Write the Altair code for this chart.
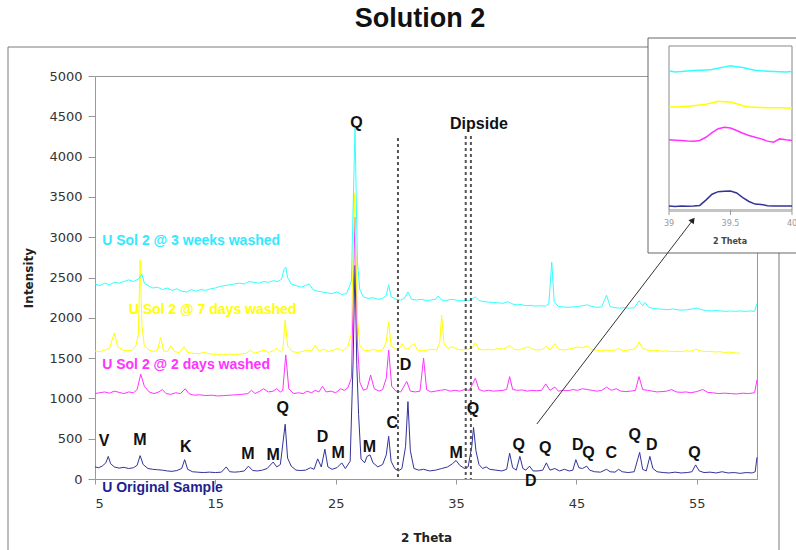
import altair as alt
import pandas as pd

# ---------------- data (2 Theta, Intensity) ----------------
original = [
    (5.0, 150), (5.3, 140), (5.6, 160), (5.9, 200), (6.1, 280), (6.3, 190), (6.6, 150), (7.0, 135),
    (7.4, 145), (7.8, 130), (8.2, 140), (8.5, 170), (8.75, 290), (9.0, 180), (9.4, 130), (9.8, 120),
    (10.2, 115), (10.6, 110), (11.0, 100), (11.4, 95), (11.8, 105), (12.2, 130), (12.45, 240), (12.7, 120),
    (13.1, 90), (13.5, 85), (14.0, 80), (14.5, 85), (15.0, 80), (15.5, 85), (15.9, 150), (16.2, 90),
    (16.6, 85), (17.0, 90), (17.4, 100), (17.75, 160), (18.1, 105), (18.5, 100), (18.9, 110), (19.3, 130),
    (19.8, 210), (20.1, 150), (20.4, 180), (20.8, 680), (21.0, 260), (21.3, 160), (21.7, 110), (22.1, 105),
    (22.5, 110), (22.9, 140), (23.2, 120), (23.5, 250), (23.8, 150), (24.1, 370), (24.35, 150), (24.7, 120),
    (25.1, 140), (25.5, 200), (25.8, 130), (26.2, 220), (26.45, 1500), (26.6, 2650), (26.75, 1420), (26.9, 800),
    (27.1, 250), (27.4, 200), (27.6, 280), (27.85, 300), (28.1, 200), (28.5, 150), (28.9, 180), (29.2, 300),
    (29.4, 530), (29.6, 220), (29.9, 130), (30.2, 100), (30.5, 130), (30.8, 400), (31.0, 960), (31.2, 350),
    (31.5, 130), (31.9, 110), (32.3, 120), (32.8, 100), (33.3, 110), (33.8, 130), (34.3, 150), (34.7, 190),
    (35.0, 230), (35.3, 170), (35.7, 130), (36.0, 150), (36.3, 400), (36.45, 640), (36.65, 350), (36.9, 180),
    (37.2, 130), (37.5, 150), (37.8, 120), (38.3, 110), (38.8, 100), (39.2, 120), (39.45, 320), (39.7, 140),
    (40.0, 110), (40.3, 280), (40.55, 130), (40.8, 110), (41.1, 160), (41.4, 100), (41.8, 100), (42.2, 110),
    (42.5, 200), (42.8, 110), (43.2, 130), (43.6, 100), (44.0, 120), (44.4, 100), (44.7, 110), (44.95, 240),
    (45.2, 140), (45.5, 130), (45.85, 160), (46.1, 110), (46.5, 90), (47.0, 85), (47.5, 120), (47.8, 90),
    (48.2, 85), (48.5, 120), (48.8, 90), (49.3, 80), (49.8, 90), (50.1, 250), (50.25, 330), (50.5, 120),
    (50.8, 100), (51.1, 280), (51.35, 130), (51.7, 90), (52.2, 80), (52.7, 75), (53.2, 85), (53.7, 75),
    (54.2, 80), (54.6, 90), (54.9, 175), (55.2, 100), (55.6, 80), (56.1, 85), (56.6, 75), (57.1, 90),
    (57.6, 75), (58.1, 80), (58.6, 70), (59.1, 80), (59.6, 75), (59.85, 90), (60.0, 270),
]

days2 = [
    (5.0, 1060), (5.4, 1070), (5.8, 1080), (6.2, 1065), (6.6, 1090), (7.0, 1075), (7.4, 1060), (7.8, 1080),
    (8.2, 1070), (8.5, 1110), (8.8, 1300), (9.1, 1150), (9.5, 1080), (9.9, 1060), (10.3, 1080), (10.6, 1110),
    (10.9, 1060), (11.3, 1050), (11.7, 1070), (12.1, 1060), (12.5, 1120), (12.8, 1060), (13.2, 1040), (13.7, 1045),
    (14.2, 1035), (14.7, 1040), (15.2, 1030), (15.7, 1035), (16.2, 1040), (16.7, 1045), (17.2, 1050), (17.7, 1060),
    (18.0, 1100), (18.3, 1060), (18.7, 1090), (19.0, 1120), (19.4, 1080), (19.8, 1090), (20.1, 1120), (20.4, 1080),
    (20.6, 1100), (20.85, 1540), (21.1, 1120), (21.5, 1060), (21.9, 1070), (22.3, 1060), (22.6, 1090), (23.0, 1070),
    (23.3, 1100), (23.6, 1080), (23.9, 1150), (24.2, 1080), (24.6, 1090), (25.0, 1070), (25.4, 1120), (25.7, 1100),
    (26.0, 1130), (26.3, 1250), (26.6, 3250), (26.8, 1700), (27.0, 1200), (27.3, 1100), (27.6, 1120), (27.9, 1290),
    (28.2, 1120), (28.6, 1090), (28.9, 1110), (29.2, 1250), (29.4, 1600), (29.65, 1150), (30.0, 1090), (30.4, 1080),
    (30.9, 1210), (31.2, 1090), (31.6, 1080), (32.0, 1090), (32.3, 1500), (32.55, 1110), (32.9, 1080), (33.3, 1090),
    (33.7, 1100), (34.1, 1110), (34.5, 1090), (34.9, 1100), (35.3, 1090), (35.7, 1110), (36.1, 1100), (36.6, 1250),
    (36.9, 1110), (37.3, 1090), (37.7, 1100), (38.1, 1090), (38.5, 1095), (38.9, 1100), (39.2, 1110), (39.45, 1270),
    (39.7, 1110), (40.1, 1100), (40.5, 1105), (40.9, 1090), (41.3, 1100), (41.7, 1095), (42.1, 1100), (42.45, 1180),
    (42.8, 1100), (43.2, 1140), (43.5, 1090), (43.9, 1100), (44.3, 1095), (44.7, 1110), (45.1, 1100), (45.5, 1120),
    (45.9, 1110), (46.3, 1100), (46.7, 1090), (47.1, 1100), (47.5, 1140), (47.9, 1100), (48.3, 1120), (48.7, 1090),
    (49.1, 1085), (49.5, 1090), (49.9, 1100), (50.2, 1270), (50.5, 1110), (50.9, 1100), (51.3, 1090), (51.7, 1080),
    (52.1, 1085), (52.5, 1090), (52.9, 1110), (53.3, 1080), (53.7, 1075), (54.1, 1080), (54.5, 1070), (55.0, 1085),
    (55.5, 1110), (55.9, 1075), (56.3, 1070), (56.8, 1060), (57.3, 1065), (57.8, 1060), (58.3, 1055), (58.8, 1065),
    (59.3, 1060), (59.8, 1070), (60.0, 1230),
]

days7 = [
    (5.0, 1590), (5.4, 1580), (5.8, 1600), (6.2, 1620), (6.6, 1810), (6.9, 1640), (7.3, 1600), (7.7, 1590),
    (8.1, 1600), (8.4, 1650), (8.6, 1800), (8.75, 2720), (8.9, 1900), (9.1, 1650), (9.5, 1600), (9.9, 1580),
    (10.2, 1600), (10.45, 1760), (10.7, 1590), (11.0, 1580), (11.3, 1650), (11.6, 1580), (12.0, 1570), (12.4, 1640),
    (12.7, 1570), (13.1, 1560), (13.6, 1555), (14.1, 1570), (14.6, 1550), (15.1, 1545), (15.6, 1540), (16.1, 1550),
    (16.6, 1545), (17.1, 1550), (17.6, 1560), (17.9, 1600), (18.2, 1560), (18.7, 1580), (19.0, 1600), (19.4, 1570),
    (19.8, 1590), (20.1, 1620), (20.4, 1580), (20.6, 1600), (20.8, 1970), (21.0, 1650), (21.4, 1580), (21.8, 1570),
    (22.2, 1580), (22.6, 1600), (23.0, 1590), (23.3, 1660), (23.6, 1590), (24.0, 1610), (24.4, 1580), (24.8, 1600),
    (25.2, 1620), (25.6, 1590), (26.0, 1640), (26.3, 1800), (26.55, 3550), (26.8, 2000), (27.0, 1650), (27.3, 1600),
    (27.7, 1590), (28.1, 1610), (28.5, 1590), (28.9, 1600), (29.2, 1700), (29.4, 1950), (29.6, 1650), (29.9, 1620),
    (30.2, 1600), (30.5, 1680), (30.8, 1610), (31.1, 1620), (31.5, 1680), (31.8, 1600), (32.2, 1590), (32.6, 1600),
    (33.0, 1610), (33.4, 1600), (33.65, 1700), (33.8, 2030), (34.0, 1680), (34.3, 1620), (34.7, 1640), (35.1, 1610),
    (35.5, 1600), (35.9, 1610), (36.3, 1620), (36.6, 1690), (36.9, 1610), (37.3, 1600), (37.7, 1610), (38.1, 1600),
    (38.5, 1620), (38.9, 1610), (39.2, 1630), (39.45, 1660), (39.8, 1610), (40.2, 1600), (40.6, 1620), (41.0, 1640),
    (41.4, 1610), (41.8, 1600), (42.2, 1610), (42.5, 1650), (42.8, 1600), (43.2, 1680), (43.5, 1610), (43.9, 1600),
    (44.3, 1610), (44.7, 1620), (45.1, 1640), (45.5, 1630), (45.9, 1650), (46.2, 1610), (46.6, 1600), (47.0, 1590),
    (47.4, 1600), (47.8, 1595), (48.2, 1600), (48.5, 1620), (48.9, 1590), (49.3, 1600), (49.7, 1610), (50.0, 1640),
    (50.2, 1700), (50.5, 1620), (50.9, 1600), (51.3, 1590), (51.7, 1595), (52.1, 1585), (52.5, 1590), (52.9, 1580),
    (53.3, 1585), (53.7, 1580), (54.1, 1590), (54.5, 1585), (54.9, 1610), (55.3, 1590), (55.7, 1580), (56.1, 1585),
    (56.5, 1575), (56.9, 1580), (57.3, 1570), (57.7, 1575), (58.1, 1565), (58.6, 1560),
]

weeks3 = [
    (5.0, 2420), (5.4, 2400), (5.8, 2430), (6.2, 2410), (6.6, 2440), (7.0, 2430), (7.4, 2450), (7.8, 2470),
    (8.2, 2450), (8.6, 2480), (8.9, 2540), (9.1, 2430), (9.4, 2400), (9.8, 2370), (10.2, 2380), (10.6, 2350),
    (11.0, 2370), (11.4, 2340), (11.8, 2360), (12.2, 2330), (12.6, 2320), (13.0, 2350), (13.4, 2330), (13.8, 2350),
    (14.2, 2340), (14.6, 2360), (15.0, 2370), (15.4, 2390), (15.8, 2400), (16.2, 2410), (16.6, 2420), (17.0, 2430),
    (17.4, 2420), (17.8, 2450), (18.2, 2440), (18.6, 2430), (19.0, 2450), (19.4, 2440), (19.8, 2460), (20.2, 2450),
    (20.5, 2480), (20.7, 2600), (20.85, 2630), (21.0, 2500), (21.3, 2420), (21.7, 2400), (22.1, 2380), (22.5, 2400),
    (22.8, 2420), (23.1, 2350), (23.5, 2330), (23.9, 2320), (24.3, 2310), (24.7, 2300), (25.1, 2320), (25.5, 2290),
    (25.9, 2300), (26.3, 2450), (26.6, 4350), (26.8, 2700), (27.0, 2350), (27.3, 2260), (27.7, 2240), (28.1, 2250),
    (28.5, 2230), (28.9, 2240), (29.2, 2280), (29.4, 2410), (29.6, 2260), (30.0, 2230), (30.4, 2220), (30.7, 2240),
    (31.0, 2320), (31.3, 2230), (31.7, 2220), (32.1, 2230), (32.5, 2215), (32.9, 2220), (33.3, 2230), (33.5, 2270),
    (33.8, 2220), (34.2, 2215), (34.6, 2230), (35.0, 2220), (35.4, 2210), (35.8, 2215), (36.2, 2220), (36.6, 2260),
    (36.9, 2215), (37.3, 2200), (37.7, 2195), (38.1, 2190), (38.5, 2185), (38.9, 2180), (39.3, 2200), (39.6, 2175),
    (40.0, 2160), (40.4, 2165), (40.8, 2150), (41.2, 2155), (41.6, 2145), (42.0, 2150), (42.4, 2145), (42.7, 2170),
    (42.95, 2690), (43.15, 2200), (43.5, 2140), (43.9, 2135), (44.3, 2130), (44.7, 2135), (45.1, 2140), (45.5, 2150),
    (45.9, 2160), (46.3, 2140), (46.7, 2130), (47.1, 2135), (47.5, 2280), (47.8, 2140), (48.2, 2125), (48.6, 2120),
    (49.0, 2125), (49.4, 2120), (49.8, 2125), (50.2, 2210), (50.5, 2150), (50.7, 2190), (51.0, 2130), (51.4, 2115),
    (51.8, 2110), (52.2, 2105), (52.6, 2100), (53.0, 2110), (53.4, 2100), (53.8, 2095), (54.2, 2100), (54.6, 2110),
    (55.0, 2120), (55.4, 2100), (55.8, 2090), (56.2, 2085), (56.6, 2090), (57.0, 2085), (57.4, 2080), (57.8, 2085),
    (58.2, 2080), (58.6, 2085), (59.0, 2080), (59.4, 2085), (59.8, 2080), (60.0, 2180),
]

series_names = ["U Original Sample", "U Sol 2 @ 2 days washed",
                "U Sol 2 @ 7 days washed", "U Sol 2 @ 3 weeks washed"]
line_colors = ["#333399", "#FF33FF", "#FFFF00", "#33FFFF"]
label_colors = ["#1F1F8F", "#FF33FF", "#FFFF00", "#33E8FF"]
label_theta = [5.6, 5.6, 7.8, 5.6]
label_int = [-110, 1415, 2095, 2950]

# inset (zoom on 39-40 degrees)
inset_theta = [39.0, 39.05, 39.1, 39.15, 39.2, 39.25, 39.3, 39.35, 39.4, 39.45, 39.5,
               39.55, 39.6, 39.65, 39.7, 39.75, 39.8, 39.85, 39.9, 39.95, 40.0]
inset_original = [110, 105, 110, 108, 110, 120, 200, 290, 330, 335, 340,
                  310, 240, 180, 140, 135, 115, 110, 110, 110, 110]
inset_days2 = [1119, 1115, 1110, 1100, 1098, 1110, 1159, 1230, 1290, 1313, 1300,
               1262, 1220, 1185, 1160, 1134, 1100, 1083, 1134, 1120, 1110]
inset_days7 = [1619, 1622, 1625, 1630, 1640, 1650, 1660, 1685, 1706, 1700, 1696,
               1670, 1640, 1619, 1615, 1612, 1609, 1607, 1608, 1605, 1604]
inset_weeks3 = [2171, 2155, 2160, 2170, 2175, 2180, 2185, 2191, 2210, 2232, 2248,
                2235, 2222, 2200, 2181, 2172, 2166, 2162, 2158, 2155, 2160]
inset_ticks = [39, 39.5, 40]
inset_tick_labels = ["39", "39.5", "40"]

# peak annotations
peak_labels = ["V", "M", "K", "M", "M", "Q", "D", "M", "Q", "M", "C", "D", "M", "Q",
               "Q", "D", "Q", "D", "Q", "C", "Q", "D", "Q"]
peak_theta = [5.75, 8.74, 12.55, 17.7, 19.8, 20.6, 23.9, 25.2, 26.72, 27.8, 29.7, 30.8, 35.0, 36.4,
              40.2, 41.2, 42.4, 45.1, 46.0, 47.9, 49.85, 51.25, 54.8]
peak_int = [470, 485, 400, 310, 300, 880, 520, 320, 4420, 400, 700, 1415, 320, 870,
            420, -25, 385, 420, 320, 320, 545, 420, 320]

# Diopside reference lines
diop_theta = [30.17, 35.8, 36.23]
diop_top = [4230, 4255, 4255]

# arrow from main pattern to inset
arrow_start = (41.71, 682)
arrow_end = (54.67, 3213)

# ---------------- chart ----------------
W, H = 662, 403
xs = alt.Scale(domain=[5, 60], nice=False, zero=False)
ys = alt.Scale(domain=[0, 5000], nice=False, zero=False)

rows = []
for name, col, pts in zip(series_names, line_colors, [original, days2, days7, weeks3]):
    for t, v in pts:
        rows.append({"theta": t, "intensity": v, "series": name, "color": col})
main_df = pd.DataFrame(rows)

irows = []
for name, col, vals in zip(series_names, line_colors,
                           [inset_original, inset_days2, inset_days7, inset_weeks3]):
    for t, v in zip(inset_theta, vals):
        irows.append({"theta": t, "intensity": v, "series": name, "color": col})
inset_df = pd.DataFrame(irows)

one = pd.DataFrame({"k": [0]})
FONT = "Liberation Sans"

outer_frame = alt.Chart(one).mark_rect(filled=False, stroke="#7a7a7a", strokeWidth=1).encode(
    x=alt.value(-87), x2=alt.value(684), y=alt.value(-29), y2=alt.value(500))

lines = alt.Chart(main_df).mark_line(strokeWidth=1).encode(
    x=alt.X("theta:Q", scale=xs, axis=alt.Axis(
        values=[5, 15, 25, 35, 45, 55], title="2 Theta", grid=False, format="d",
        domainColor="#999", tickColor="#999", tickSize=5, labelPadding=13,
        labelFont="DejaVu Sans", labelFontSize=13, labelColor="#333",
        titleFont="DejaVu Sans", titleFontSize=12, titleFontWeight="bold",
        titleColor="#222", titlePadding=22)),
    y=alt.Y("intensity:Q", scale=ys, axis=alt.Axis(
        values=list(range(0, 5001, 500)), title="Intensity", grid=False, format="d",
        domainColor="#999", tickColor="#999", tickSize=7, labelPadding=6,
        labelFont="DejaVu Sans", labelFontSize=13, labelColor="#333",
        titleFont="DejaVu Sans", titleFontSize=12, titleFontWeight="bold",
        titleColor="#222", titlePadding=13)),
    color=alt.Color("color:N", scale=None),
    detail="series:N",
    order=alt.Order("theta:Q"),
)

diop_df = pd.DataFrame({"theta": diop_theta, "top": diop_top, "bottom": [0] * len(diop_theta)})
dashes = alt.Chart(diop_df).mark_rule(color="#555", strokeWidth=2, strokeDash=[3, 3]).encode(
    x=alt.X("theta:Q", scale=xs, axis=None),
    y=alt.Y("top:Q", scale=ys, axis=None),
    y2="bottom:Q",
)

dip_text = alt.Chart(pd.DataFrame({"t": ["Dipside"], "x": [36.9], "y": [4400]})).mark_text(
    font=FONT, fontSize=16, fontWeight="bold", color="#111").encode(
    x=alt.X("x:Q", scale=xs, axis=None), y=alt.Y("y:Q", scale=ys, axis=None), text="t:N")

peaks_df = pd.DataFrame({"label": peak_labels, "theta": peak_theta, "intensity": peak_int})
peaks = alt.Chart(peaks_df).mark_text(font=FONT, fontSize=16, fontWeight="bold", color="#111").encode(
    x=alt.X("theta:Q", scale=xs, axis=None),
    y=alt.Y("intensity:Q", scale=ys, axis=None),
    text="label:N",
)

lab_df = pd.DataFrame({"text": series_names, "theta": label_theta, "intensity": label_int,
                       "color": label_colors})
labels = alt.Chart(lab_df).mark_text(font=FONT, fontSize=14, fontWeight="bold", align="left").encode(
    x=alt.X("theta:Q", scale=xs, axis=None),
    y=alt.Y("intensity:Q", scale=ys, axis=None),
    text="text:N",
    color=alt.Color("color:N", scale=None),
)

overlays = alt.layer(dashes, dip_text, peaks, labels)

# ---------------- inset ----------------
ixs = alt.Scale(domain=[39, 40], range=[574, 697], nice=False, zero=False)
iys = alt.Scale(domain=[50, 2550], range=[134, -30], nice=False, zero=False)

inset_box = alt.Chart(one).mark_rect(fill="white", stroke="#666", strokeWidth=1).encode(
    x=alt.value(553), x2=alt.value(720), y=alt.value(-38), y2=alt.value(177))
inset_plot = alt.Chart(one).mark_rect(filled=False, stroke="#888", strokeWidth=1).encode(
    x=alt.value(574), x2=alt.value(697), y=alt.value(-30), y2=alt.value(134))
inset_base = alt.Chart(one).mark_rule(color="#c4c4c4", strokeWidth=2).encode(
    x=alt.value(574), x2=alt.value(697), y=alt.value(135))

inset_lines = alt.Chart(inset_df).mark_line(strokeWidth=1.5).encode(
    x=alt.X("theta:Q", scale=ixs, axis=None),
    y=alt.Y("intensity:Q", scale=iys, axis=None),
    color=alt.Color("color:N", scale=None),
    detail="series:N",
    order=alt.Order("theta:Q"),
)
itick_df = pd.DataFrame({"theta": inset_ticks, "lab": inset_tick_labels})
inset_tick_marks = alt.Chart(itick_df).mark_rule(color="#999", strokeWidth=1).encode(
    x=alt.X("theta:Q", scale=ixs, axis=None), y=alt.value(134), y2=alt.value(139))
inset_tick_text = alt.Chart(itick_df).mark_text(font="DejaVu Sans", fontSize=8, color="#999").encode(
    x=alt.X("theta:Q", scale=ixs, axis=None), y=alt.value(148), text="lab:N")
inset_title = alt.Chart(pd.DataFrame({"t": ["2 Theta"]})).mark_text(
    font="DejaVu Sans", fontSize=8, fontWeight="bold", color="#444").encode(
    x=alt.value(635), y=alt.value(166), text="t:N")

inset = alt.layer(inset_tick_marks, inset_tick_text, inset_lines)

# ---------------- arrow ----------------
arrow_df = pd.DataFrame({"x": [arrow_start[0]], "y": [arrow_start[1]],
                         "x2": [arrow_end[0]], "y2": [arrow_end[1]]})
arrow_line = alt.Chart(arrow_df).mark_rule(color="#333", strokeWidth=1).encode(
    x=alt.X("x:Q", scale=xs, axis=None), y=alt.Y("y:Q", scale=ys, axis=None),
    x2="x2:Q", y2="y2:Q")
arrow_head = alt.Chart(arrow_df).mark_point(shape="triangle-up", filled=True, size=45,
                                            angle=37, color="#222", opacity=1).encode(
    x=alt.X("x2:Q", scale=xs, axis=None), y=alt.Y("y2:Q", scale=ys, axis=None))
arrow = alt.layer(arrow_line, arrow_head)

title = alt.Chart(pd.DataFrame({"t": ["Solution 2"]})).mark_text(
    font=FONT, fontSize=27, fontWeight="bold", color="#111").encode(
    x=alt.value(325), y=alt.value(-57), text="t:N")

chart = alt.layer(
    outer_frame, lines, overlays, inset_box, inset_plot, inset_base, inset, inset_title, arrow, title
).resolve_scale(x="independent", y="independent").properties(
    width=W, height=H,
    autosize=alt.AutoSizeParams(type="none"),
    padding={"left": 95, "top": 76, "right": 39, "bottom": 71},
).configure_view(stroke="#999", strokeWidth=1)

chart.save("out.html", embed_options={"renderer": "svg", "actions": False})
